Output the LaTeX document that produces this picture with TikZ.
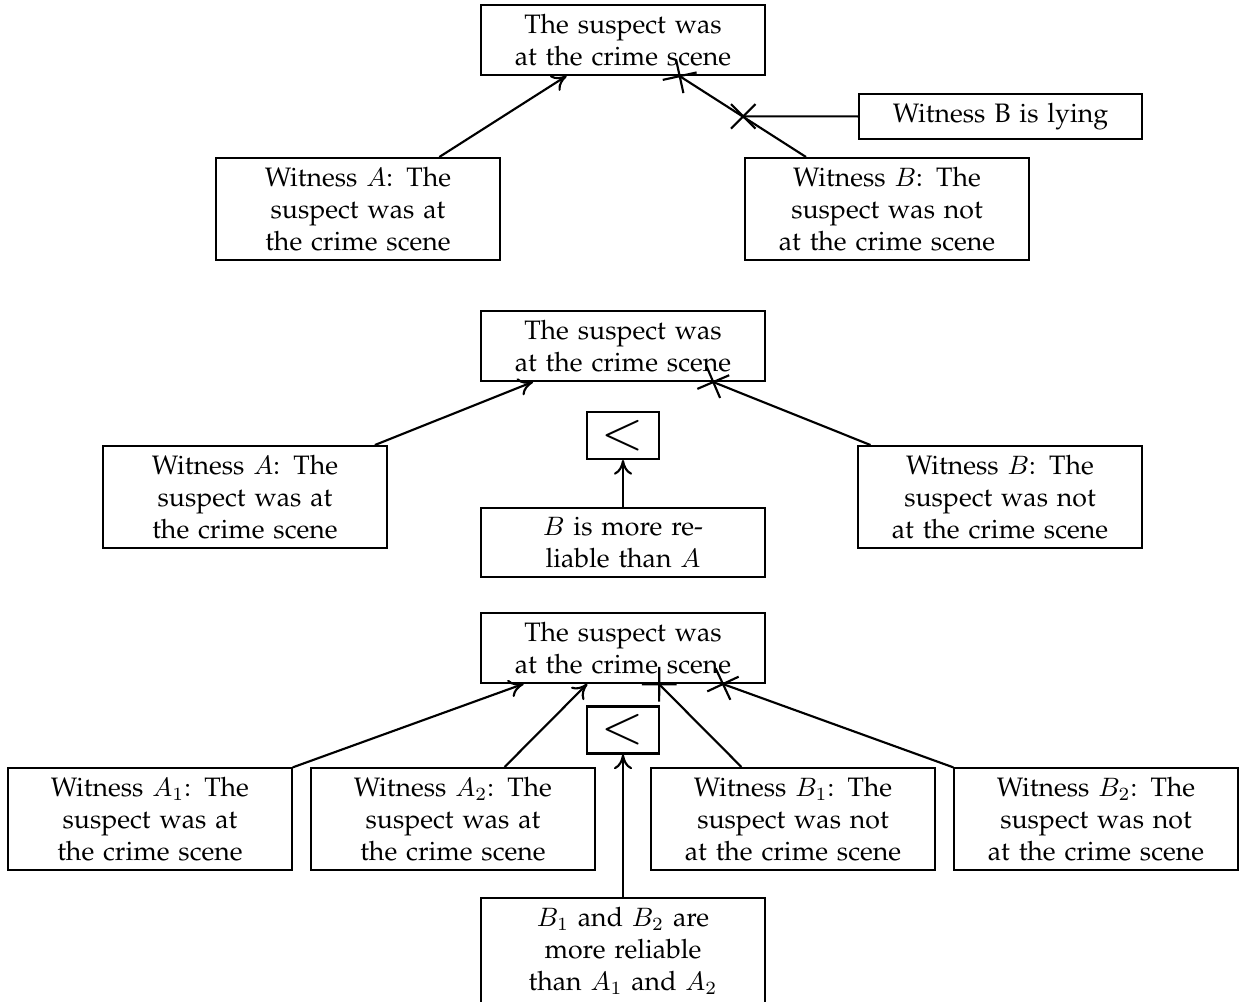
\documentclass[tikz,border=0pt]{standalone}
\usepackage[T1]{fontenc}
\renewcommand{\rmdefault}{ppl}
\usetikzlibrary{arrows.meta}
\begin{document}
\begin{tikzpicture}[x=0.375pt,y=-0.375pt,
  box/.style={draw,line width=0.8pt,text width=3.5cm,align=center,inner sep=3.333pt,font=\normalsize},
  prefbox/.style={draw,line width=0.8pt,inner sep=0pt,minimum width=27pt,minimum height=17.6pt},
  sup/.style={draw,line width=0.8pt,-{Computer Modern Rightarrow[length=5.5pt,width=6.8pt,line width=0.8pt]}},
  att/.style={draw,line width=0.8pt,shorten >=-4.6pt,-{Rays[n=4,length=13pt,line width=0.8pt]}}]
\useasboundingbox (0,0) rectangle (1243,1001);
% ---------- diagram 1
\node[box,anchor=north] (T1) at (623,4) {The suspect was\\at the crime scene};
\node[box,anchor=north] (WA1) at (358,157) {Witness $A$: The\\suspect was at\\the crime scene};
\node[box,anchor=north] (WB1) at (887,157) {Witness $B$: The\\suspect was not\\at the crime scene};
\node[box] (L1) at (1000.5,116.5) {Witness B is lying};
\draw[sup] (WA1) -- (T1);
\draw[att] (WB1) -- coordinate[midway] (m1) (T1);
\draw[att] (L1) -- (m1);
% ---------- diagram 2
\node[box,anchor=north] (T2) at (623,310) {The suspect was\\at the crime scene};
\node[box,anchor=north] (WA2) at (245,445) {Witness $A$: The\\suspect was at\\the crime scene};
\node[box,anchor=north] (WB2) at (1000,445) {Witness $B$: The\\suspect was not\\at the crime scene};
\node[prefbox] (P2) at (623,435.5) {\huge$<$};
\node[box,anchor=north] (R2) at (623,507) {$B$ is more re-\\liable than $A$};
\draw[sup] (WA2) -- (T2);
\draw[att] (WB2) -- (T2);
\draw[sup] (R2) -- (P2);
% ---------- diagram 3
\node[box,anchor=north] (T3) at (623,612) {The suspect was\\at the crime scene};
\node[box,anchor=north] (W1) at (150,767) {Witness $A_1$: The\\suspect was at\\the crime scene};
\node[box,anchor=north] (W2) at (453,767) {Witness $A_2$: The\\suspect was at\\the crime scene};
\node[box,anchor=north] (W3) at (793,767) {Witness $B_1$: The\\suspect was not\\at the crime scene};
\node[box,anchor=north] (W4) at (1096,767) {Witness $B_2$: The\\suspect was not\\at the crime scene};
\node[prefbox] (P3) at (623,730) {\huge$<$};
\node[box,anchor=north] (R3) at (623,897) {$B_1$ and $B_2$ are\\more reliable\\than $A_1$ and $A_2$};
\draw[sup] (W1) -- (T3);
\draw[sup] (W2) -- (T3);
\draw[att] (W3) -- (T3);
\draw[att] (W4) -- (T3);
\draw[sup] (R3) -- (P3);
\end{tikzpicture}
\end{document}
